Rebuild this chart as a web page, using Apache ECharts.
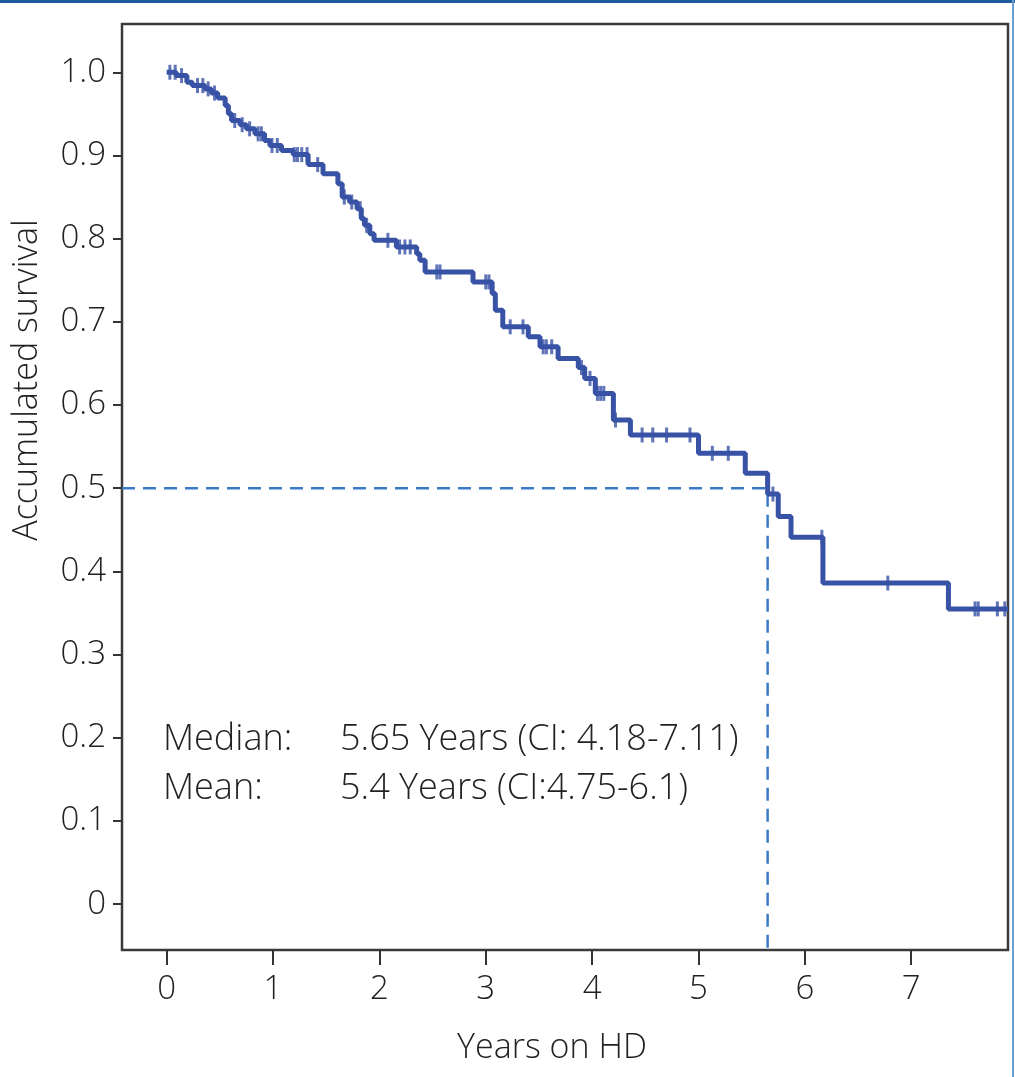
<!DOCTYPE html>
<html>
<head>
<meta charset="utf-8">
<script src="https://cdn.jsdelivr.net/npm/echarts@6/dist/echarts.min.js"></script>
<style>
html,body{margin:0;padding:0;background:#fff;}
#chart{width:1015px;height:1077px;}
</style>
</head>
<body>
<div id="chart"></div>
<script>
// Kaplan-Meier step times (years on HD) and survival after each step
const stepTimes = [0, 0.09, 0.19, 0.24, 0.36, 0.42, 0.48, 0.55, 0.58, 0.61, 0.69, 0.75, 0.83, 0.92, 0.97, 1.08, 1.19, 1.33, 1.47, 1.61, 1.65, 1.72, 1.79, 1.83, 1.86, 1.91, 1.95, 2.16, 2.35, 2.38, 2.43, 2.88, 3.06, 3.09, 3.16, 3.40, 3.51, 3.68, 3.87, 3.93, 4.03, 4.20, 4.36, 5.00, 5.44, 5.65, 5.75, 5.87, 6.17, 7.35];
const stepSurvival = [1.000, 0.996, 0.988, 0.984, 0.980, 0.975, 0.969, 0.960, 0.950, 0.942, 0.937, 0.932, 0.926, 0.918, 0.912, 0.906, 0.901, 0.889, 0.878, 0.866, 0.850, 0.844, 0.836, 0.824, 0.816, 0.806, 0.798, 0.790, 0.782, 0.774, 0.760, 0.748, 0.734, 0.714, 0.694, 0.682, 0.670, 0.656, 0.645, 0.632, 0.614, 0.582, 0.564, 0.542, 0.518, 0.493, 0.466, 0.441, 0.386, 0.355];
// censored observations (times)
const censorTimes = [0.03, 0.08, 0.14, 0.29, 0.34, 0.39, 0.45, 0.64, 0.71, 0.78, 0.86, 0.89, 0.99, 1.04, 1.20, 1.23, 1.27, 1.32, 1.42, 1.67, 1.74, 1.82, 1.88, 2.08, 2.19, 2.24, 2.29, 2.54, 2.57, 3.00, 3.03, 3.23, 3.35, 3.54, 3.57, 3.62, 3.90, 3.98, 4.05, 4.08, 4.11, 4.22, 4.47, 4.57, 4.70, 4.92, 5.13, 5.28, 5.70, 6.16, 6.78, 7.60, 7.63, 7.81, 7.88];
const followUpEnd = 7.91;
const medianTime = 5.65;
const medianSurvival = 0.5;
const xTickLabels = [0, 1, 2, 3, 4, 5, 6, 7];
const yTickLabels = [0, 0.1, 0.2, 0.3, 0.4, 0.5, 0.6, 0.7, 0.8, 0.9, 1.0];
const xRange = [-0.42, 7.91];
const yRange = [-0.055, 1.058];
const annotationLabels = ['Median:', 'Mean:'];
const annotationValues = ['5.65 Years (CI: 4.18-7.11)', '5.4 Years (CI:4.75-6.1)'];

const kmData = stepTimes.map((t, i) => [t, stepSurvival[i]]);
kmData.push([followUpEnd, stepSurvival[stepSurvival.length - 1]]);
function survivalAt(t) {
  let s = stepSurvival[0];
  for (let i = 0; i < stepTimes.length; i++) { if (stepTimes[i] <= t) s = stepSurvival[i]; }
  return s;
}
const censorData = censorTimes.map(t => [t, survivalAt(t)]);
const medianData = [[xRange[0], medianSurvival], [medianTime, medianSurvival], [medianTime, yRange[0]]];

const FONT = 'Open Sans';
const TXT = '#222';
const LINE = '#3853a6';
const chart = echarts.init(document.getElementById('chart'), null, {renderer: 'canvas'});
chart.setOption({
  animation: false,
  backgroundColor: '#fff',
  grid: {left: 122, right: 7, top: 24, bottom: 127, show: true, borderColor: '#3a3a3a', borderWidth: 2.5, backgroundColor: 'transparent'},
  xAxis: {
    type: 'value', min: xRange[0], max: xRange[1],
    splitLine: {show: false},
    axisLine: {show: false, onZero: false},
    axisTick: {show: true, length: 15, lineStyle: {color: '#333', width: 2}, customValues: xTickLabels},
    axisLabel: {customValues: xTickLabels, fontFamily: FONT, fontWeight: 300, fontSize: 33, color: TXT, margin: 23}
  },
  yAxis: {
    type: 'value', min: yRange[0], max: yRange[1],
    splitLine: {show: false},
    axisLine: {show: false, onZero: false},
    axisTick: {show: true, length: 9, lineStyle: {color: '#333', width: 2}, customValues: yTickLabels},
    axisLabel: {customValues: yTickLabels, fontFamily: FONT, fontWeight: 300, fontSize: 33, color: TXT, margin: 16,
      formatter: v => (Math.abs(v) < 1e-9 ? '0' : v.toFixed(1))}
  },
  series: [
    {type: 'line', data: medianData, symbol: 'none', lineStyle: {color: '#3b7bc6', width: 2.5, type: [13, 8]}, z: 1},
    {type: 'line', data: kmData, step: 'end', symbol: 'none', lineStyle: {color: LINE, width: 5}, z: 3},
    {type: 'scatter', data: censorData, symbol: 'rect', symbolSize: [3, 15], itemStyle: {color: LINE}, z: 4}
  ],
  graphic: [
    {type: 'rect', shape: {x: 0, y: 0, width: 1015, height: 3}, style: {fill: '#1d5a9e'}},
    {type: 'rect', shape: {x: 1012, y: 0, width: 2, height: 1077}, style: {fill: '#6c9fd0'}},
    {type: 'text', x: 27, y: 380, rotation: Math.PI / 2, style: {text: 'Accumulated survival', fontFamily: FONT, fontWeight: 300, fontSize: 34, fill: TXT, align: 'center', verticalAlign: 'middle'}},
    {type: 'text', x: 552, y: 1048, style: {text: 'Years on HD', fontFamily: FONT, fontWeight: 300, fontSize: 34, fill: TXT, align: 'center', verticalAlign: 'middle'}},
    {type: 'text', x: 163, y: 740, style: {text: annotationLabels[0], fontFamily: FONT, fontWeight: 300, fontSize: 36, fill: TXT, align: 'left', verticalAlign: 'middle'}},
    {type: 'text', x: 340, y: 740, style: {text: annotationValues[0], fontFamily: FONT, fontWeight: 300, fontSize: 36, fill: TXT, align: 'left', verticalAlign: 'middle'}},
    {type: 'text', x: 163, y: 789, style: {text: annotationLabels[1], fontFamily: FONT, fontWeight: 300, fontSize: 36, fill: TXT, align: 'left', verticalAlign: 'middle'}},
    {type: 'text', x: 340, y: 789, style: {text: annotationValues[1], fontFamily: FONT, fontWeight: 300, fontSize: 36, fill: TXT, align: 'left', verticalAlign: 'middle'}}
  ]
});
</script>
</body>
</html>
